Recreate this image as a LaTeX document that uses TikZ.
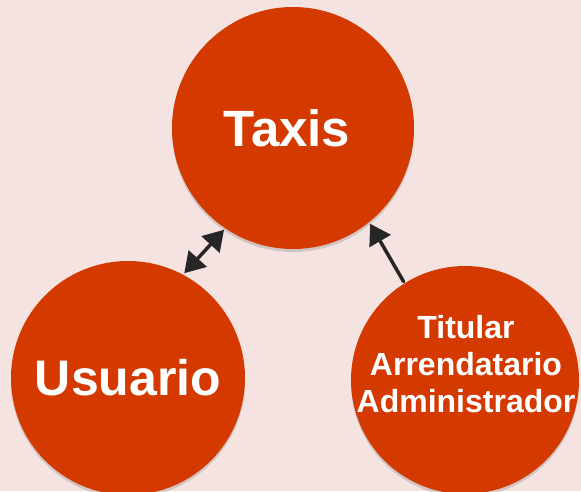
\documentclass[tikz,border=0pt]{standalone}
\usepackage{fontspec}
\setmainfont{Liberation Sans}
\usetikzlibrary{arrows.meta,shadows}
\definecolor{fondo}{HTML}{F5E3E1}
\definecolor{naranja}{HTML}{D43A00}
\begin{document}
\begin{tikzpicture}[x=1pt, y=-1pt, line cap=round,
    actor/.style={circle, fill=naranja, inner sep=0pt, outer sep=0pt,
      text=white, font=\bfseries, align=center,
      drop shadow={opacity=0.3, shadow xshift=0pt, shadow yshift=-3pt}},
    enlace/.style={line width=3.5pt, black!85, shorten <=2pt, shorten >=2pt}]
  \fill[fondo] (0,0) rectangle (581,491);
  \useasboundingbox (0,0) rectangle (581,491);
  \node[actor, minimum size=242pt, font=\bfseries\fontsize{51}{51}\selectfont] (taxis) at (293,128) {Taxis\hspace*{12pt}};
  \node[actor, minimum size=234pt, font=\bfseries\fontsize{50}{50}\selectfont] (usuario) at (128,378) {Usuario};
  \node[actor, minimum size=228pt] (titular) at (465,380) {};
  \node[text=white, align=center, font=\bfseries\fontsize{32}{37}\selectfont] (roles) at (466,364) {Titular\\Arrendatario\\Administrador};
  \draw[enlace, {Triangle[length=20pt,width=24pt]}-{Triangle[length=20pt,width=24pt]}] (usuario.62) -- (taxis.236);
  \draw[enlace, -{Triangle[length=20pt,width=24pt]}] (titular.122) -- (taxis.309);
\end{tikzpicture}
\end{document}
